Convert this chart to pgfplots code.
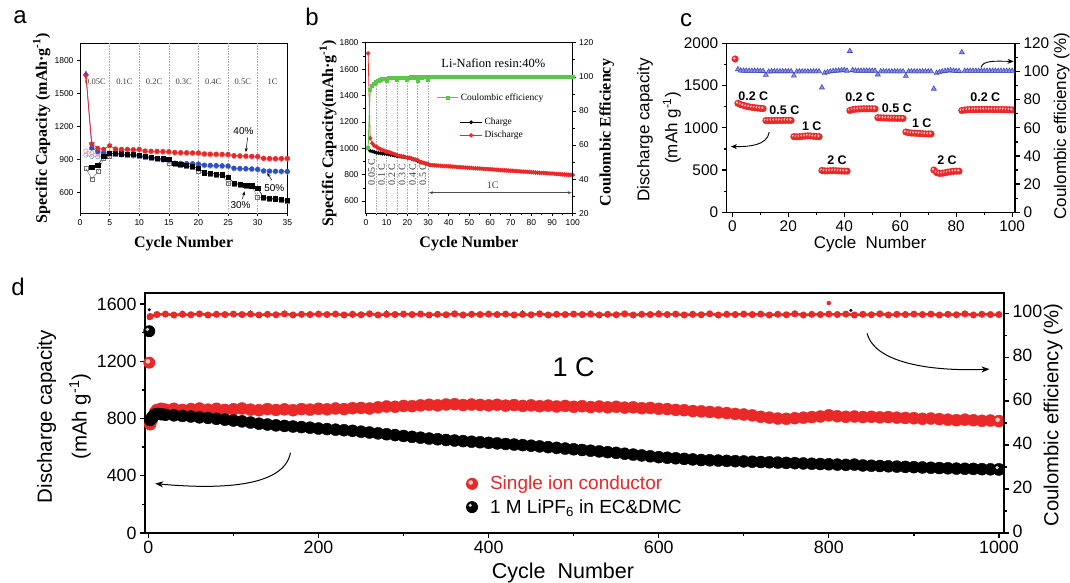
\documentclass[border=0pt]{standalone}
\usepackage{pgfplots}
\pgfplotsset{compat=1.18}
\usepackage{fontspec}
\setmainfont{Liberation Sans}
\newfontfamily\tnr{Liberation Serif}
\usetikzlibrary{arrows.meta}
\definecolor{cred}{RGB}{235,40,40}
\definecolor{cblue}{RGB}{45,80,200}
\definecolor{cpurp}{RGB}{150,60,170}
\definecolor{cgreen}{RGB}{90,200,70}
\definecolor{ctri}{RGB}{65,75,190}
\definecolor{ctrifill}{RGB}{140,150,225}
\newcommand{\fs}[1]{\fontsize{#1}{#1}\selectfont}
\pgfdeclareplotmark{rball}{%
  \pgfpathcircle{\pgfpointorigin}{\pgfplotmarksize}%
  \pgfsetfillcolor{cred}\pgfusepathqfill
  \pgfpathcircle{\pgfpoint{-0.22\pgfplotmarksize}{0.22\pgfplotmarksize}}{0.38\pgfplotmarksize}%
  \pgfsetfillcolor{cred!25!white}\pgfusepathqfill}
\pgfdeclareplotmark{kball}{%
  \pgfpathcircle{\pgfpointorigin}{\pgfplotmarksize}%
  \pgfsetfillcolor{black}\pgfusepathqfill
  \pgfpathcircle{\pgfpoint{-0.3\pgfplotmarksize}{0.3\pgfplotmarksize}}{0.3\pgfplotmarksize}%
  \pgfsetfillcolor{black!15!white}\pgfusepathqfill}
\pgfplotsset{
  base/.style={scale only axis, clip=false, tick align=outside, anchor=south west,
    /pgf/number format/assume math mode=true,
    /pgf/number format/1000 sep={}},
  small/.style={major tick length=3pt, minor tick length=2pt,
    tick style={black, line width=0.6pt}, axis line style={line width=0.8pt},
    ticklabel style={font=\fs{8.5}}},
  big/.style={major tick length=5pt, minor tick length=3pt,
    tick style={black, line width=1.3pt}, axis line style={line width=1.4pt}},
}
\begin{document}
\begin{tikzpicture}[x=1pt,y=1pt]
\fill[white] (0,0) rectangle (1070,583);
\path[use as bounding box] (0,0) rectangle (1070,583);

% ---------------- panel a ----------------
\begin{axis}[base, small, at={(80pt,369.7pt)}, width=207.3pt, height=170pt,
  xmin=0, xmax=35, ymin=413, ymax=1954,
  xtick={0,5,...,35}, ytick={600,900,1200,1500,1800},
  xtick pos=bottom, ytick pos=left]
\pgfplotsinvokeforeach{5,10,15,20,25,30}{\draw[gray!60, densely dotted, line width=0.6pt] (axis cs:#1,413) -- (axis cs:#1,1954);}
\begin{scope}[font=\tnr\fs{8.5}, text=black!75]
\node at (axis cs:2.6,1609) {0.05C};
\node at (axis cs:7.5,1609) {0.1C};
\node at (axis cs:12.5,1609) {0.2C};
\node at (axis cs:17.5,1609) {0.3C};
\node at (axis cs:22.5,1609) {0.4C};
\node at (axis cs:27.5,1609) {0.5C};
\node at (axis cs:32.5,1609) {1C};
\end{scope}
\addplot[black!55, line width=0.4pt, mark=square, mark size=2pt, mark options={line width=0.5pt}] coordinates {(1,820)(2,724)(3,790)(4,911)(5,930)(6,947)(7,944)(8,940)(9,937)(10,932)(11,920)(12,914)(13,907)(14,900)(15,866)(16,858)(17,848)(18,838)(19,828)(20,792)(21,773)(22,767)(23,762)(24,754)(25,685)(26,677)(27,669)(28,662)(29,655)(30,560)(31,550)(32,542)(33,537)(34,530)(35,522)};
\addplot[cblue!60, line width=0.4pt, mark=o, mark size=2.2pt, mark options={line width=0.5pt}] coordinates {(1,940)(2,928)(3,925)(4,930)(5,940)(6,944)(7,940)(8,936)(9,932)(10,928)(11,917)(12,910)(13,902)(14,894)(15,887)(16,860)(17,858)(18,856)(19,854)(20,852)(21,842)(22,840)(23,838)(24,836)(25,834)(26,814)(27,812)(28,810)(29,808)(30,804)(31,790)(32,788)(33,787)(34,786)(35,785)};
\addplot[cred!60, line width=0.4pt, mark=o, mark size=2.2pt, mark options={line width=0.5pt}] coordinates {(1,978)(2,960)(3,955)(4,955)(5,962)(6,988)(7,985)(8,985)(9,982)(10,985)(11,970)(12,968)(13,967)(14,965)(15,964)(16,957)(17,955)(18,954)(19,953)(20,952)(21,944)(22,942)(23,941)(24,940)(25,939)(26,928)(27,926)(28,924)(29,922)(30,920)(31,904)(32,902)(33,901)(34,902)(35,903)};
\addplot[cblue, line width=0.5pt, mark=*, mark size=2.3pt] coordinates {(2,1005)(3,972)(4,963)(5,957)(6,952)(7,948)(8,944)(9,940)(10,936)(11,925)(12,918)(13,910)(14,902)(15,895)(16,868)(17,866)(18,864)(19,862)(20,860)(21,850)(22,848)(23,846)(24,844)(25,842)(26,822)(27,820)(28,818)(29,816)(30,812)(31,798)(32,796)(33,795)(34,794)(35,793)};
\addplot[black, line width=0.5pt, mark=square*, mark size=2.1pt] coordinates {(2,830)(3,848)(4,930)(5,957)(6,955)(7,952)(8,948)(9,945)(10,940)(11,928)(12,922)(13,915)(14,908)(15,900)(16,866)(17,856)(18,846)(19,836)(20,820)(21,781)(22,775)(23,770)(24,762)(25,740)(26,685)(27,677)(28,670)(29,663)(30,640)(31,558)(32,550)(33,545)(34,538)(35,530)};
\addplot[cred, line width=0.5pt, mark=*, mark size=2.3pt] coordinates {(2,1041)(3,1002)(4,993)(5,1025)(6,996)(7,993)(8,993)(9,990)(10,993)(11,978)(12,976)(13,975)(14,973)(15,972)(16,965)(17,963)(18,962)(19,961)(20,960)(21,952)(22,950)(23,949)(24,948)(25,947)(26,936)(27,934)(28,932)(29,930)(30,928)(31,912)(32,910)(33,909)(34,910)(35,911)};
\addplot[cpurp, line width=0.7pt, mark=triangle*, mark size=2.6pt, mark options={cblue}] coordinates {(1,1676)(2,1005)};
\addplot[cred, line width=0.7pt, mark=triangle*, mark size=2.6pt, mark options={rotate=180}] coordinates {(1,1658)(2,1041)};
\node[font=\fs{10}] at (axis cs:27.6,1159) {40\%};
\node[font=\fs{10}] at (axis cs:32.8,639) {50\%};
\node[font=\fs{10}] at (axis cs:27.1,488) {30\%};
\draw[-{Stealth[length=4pt,width=3pt]}, line width=0.5pt] (axis cs:28.3,1100) -- (axis cs:28.0,968);
\draw[-{Stealth[length=4pt,width=3pt]}, line width=0.5pt] (axis cs:32.4,712) -- (axis cs:31.6,778);
\draw[-{Stealth[length=4pt,width=3pt]}, line width=0.5pt] (axis cs:27.4,545) -- (axis cs:27.8,612);
\end{axis}

% ---------------- panel b ----------------
\begin{axis}[base, small, at={(365pt,369.7pt)}, width=207.7pt, height=170.6pt,
  xmin=-0.5, xmax=100, ymin=507, ymax=1800,
  xtick={0,10,...,100}, minor xtick={5,15,...,95},
  ytick={600,800,...,1800}, minor ytick={700,900,...,1700},
  xtick pos=bottom, ytick pos=left,
  legend style={at={(0.455,0.4953)}, anchor=west, draw=none, fill=none, inner sep=0pt,
    font=\tnr\fs{9.5}, row sep=1pt},
  legend cell align=left,
  legend image code/.code={\draw[mark repeat=2, mark phase=2, #1] plot coordinates {(0pt,0pt) (11pt,0pt) (22pt,0pt)};}]
\pgfplotsinvokeforeach{5,10,15,20,25,30}{\draw[gray!60, densely dotted, line width=0.6pt] (axis cs:#1,507) -- (axis cs:#1,1520);}
\begin{scope}[font=\tnr\fs{10}, text=black!75]
\node[rotate=90, anchor=west] at (axis cs:2.7,691) {0.05 C};
\node[rotate=90, anchor=west] at (axis cs:7.5,691) {0.1 C};
\node[rotate=90, anchor=west] at (axis cs:12.5,691) {0.2 C};
\node[rotate=90, anchor=west] at (axis cs:17.5,691) {0.3 C};
\node[rotate=90, anchor=west] at (axis cs:22.5,691) {0.4 C};
\node[rotate=90, anchor=west] at (axis cs:27.5,691) {0.5 C};
\node at (axis cs:61.3,721) {1C};
\end{scope}
\draw[{Stealth[length=4pt,width=3pt]}-{Stealth[length=4pt,width=3pt]}, black!70, line width=0.5pt] (axis cs:30.5,663) -- (axis cs:99.5,663);
\node[font=\tnr\fs{12.5}] at (axis cs:61.6,1648) {Li-Nafion resin:40\%};
\addplot[black, line width=0.5pt, mark=*, mark size=1.7pt] coordinates {(1,999)(2,981)(3,976)(4,972)(5,966)(6,964)(7,962)(8,960)(9,958)(10,956)(11,953)(12,950)(13,947)(14,944)(15,941)(16,938)(17,936)(18,934)(19,931)(20,928)(21,925)(22,920)(23,915)(24,910)(25,903)(26,897)(27,892)(28,887)(29,883)(30,878)(31,872)};
\addlegendentry{Charge}
\addplot[cred, line width=0.8pt, mark=*, mark size=1.8pt] coordinates {(1,1719)(2,1075)(3,1037)(4,1019)(5,1012)(6,999)(7,993)(8,987)(9,980)(10,974)(11,972)(12,966)(13,960)(14,954)(15,948)(16,943)(17,940)(18,937)(19,934)(20,930)(21,928)(22,923)(23,918)(24,914)(25,910)(26,898)(27,893)(28,888)(29,884)(30,880)(31,873)(32,872)(33,871)(34,869)(35,868)(36,867)(37,866)(38,865)(39,864)(40,863)(41,862)(42,861)(43,860)(44,858)(45,857)(46,856)(47,855)(48,854)(49,853)(50,852)(51,851)(52,849)(53,848)(54,847)(55,846)(56,845)(57,844)(58,843)(59,842)(60,841)(61,840)(62,838)(63,837)(64,836)(65,835)(66,834)(67,833)(68,832)(69,831)(70,830)(71,829)(72,827)(73,826)(74,825)(75,824)(76,823)(77,822)(78,821)(79,820)(80,819)(81,818)(82,816)(83,815)(84,814)(85,813)(86,812)(87,811)(88,810)(89,809)(90,808)(91,807)(92,805)(93,804)(94,803)(95,802)(96,801)(97,800)(98,799)(99,798)(100,797)};
\addlegendentry{Discharge}
\end{axis}
\begin{axis}[base, small, at={(365pt,369.7pt)}, width=207.7pt, height=170.6pt,
  xmin=-0.5, xmax=100, ymin=20, ymax=120,
  axis x line=none, axis y line*=right,
  ytick={20,40,...,120}, minor ytick={30,50,...,110},
  legend style={at={(0.345,0.6776)}, anchor=west, draw=none, fill=none, inner sep=0pt,
    font=\tnr\fs{9.5}},
  legend image code/.code={\draw[mark repeat=2, mark phase=2, #1] plot coordinates {(0pt,0pt) (11pt,0pt) (21pt,0pt)};}]
\addplot[cgreen, line width=1pt, mark=square*, mark size=1.6pt] coordinates {(1,58.4)(2,92.4)(3,94.8)(4,95.9)(5,96.7)(6,97.7)(7,98.3)(8,98.6)(9,98.6)(10,97.5)(11,99.2)(12,99.2)(13,99.3)(14,99.3)(15,98.2)(16,99.4)(17,99.4)(18,99.5)(19,99.5)(20,98.2)(21,99.5)(22,99.6)(23,99.6)(24,99.6)(25,97.6)(26,99.6)(27,99.6)(28,99.7)(29,99.7)(30,98.0)(31,99.7)(33,99.8)(35,99.8)(37,99.9)(39,99.8)(41,99.8)(43,99.9)(45,99.8)(47,99.8)(49,99.9)(51,99.8)(53,99.8)(55,99.9)(57,99.8)(59,99.8)(61,99.9)(63,99.8)(65,99.8)(67,99.9)(69,99.8)(71,99.8)(73,99.9)(75,99.8)(77,100.1)(79,99.8)(81,99.9)(83,99.8)(85,99.8)(87,99.9)(89,99.8)(91,99.8)(93,99.9)(95,99.8)(97,99.8)(99,99.9)(100,99.8)};
\addlegendentry{Coulombic efficiency}
\end{axis}

% ---------------- panel c ----------------
\begin{axis}[base, big, at={(726.7pt,370.7pt)}, width=288.3pt, height=169pt,
  xmin=-2, xmax=101, ymin=0, ymax=2000,
  xtick={0,20,...,100}, minor xtick={10,30,...,90},
  ytick={0,500,...,2000}, minor ytick={250,750,...,1750},
  xtick pos=bottom, ytick pos=left,
  ticklabel style={font=\fs{15.4}}]
\addplot[only marks, mark=rball, mark size=3.6pt] coordinates {(1,1814)(2,1290)(3,1275)(4,1265)(5,1255)(6,1248)(7,1242)(8,1238)(9,1234)(10,1230)(11,1227)(12,1085)(13,1085)(14,1086)(15,1086)(16,1087)(17,1087)(18,1087)(19,1088)(20,1088)(21,1088)(22,895)(23,893)(24,895)(25,898)(26,902)(27,905)(28,903)(29,900)(30,897)(31,895)(32,495)(33,490)(34,490)(35,492)(36,493)(37,492)(38,490)(39,488)(40,487)(41,487)(42,1205)(43,1215)(44,1220)(45,1222)(46,1224)(47,1225)(48,1225)(49,1225)(50,1225)(51,1224)(52,1120)(53,1118)(54,1116)(55,1115)(56,1114)(57,1113)(58,1113)(59,1112)(60,1112)(61,1111)(62,950)(63,942)(64,938)(65,936)(66,934)(67,932)(68,930)(69,928)(70,927)(71,927)(72,500)(73,470)(74,460)(75,462)(76,468)(77,475)(78,480)(79,485)(80,487)(81,487)(82,1205)(83,1210)(84,1213)(85,1215)(86,1215)(87,1216)(88,1216)(89,1217)(90,1217)(91,1217)(92,1217)(93,1216)(94,1216)(95,1216)(96,1215)(97,1215)(98,1214)(99,1213)(100,1212)};
\begin{scope}[font=\bfseries\fs{12.5}]
\node at (axis cs:7.5,1376) {0.2 C};
\node at (axis cs:18.6,1211) {0.5 C};
\node at (axis cs:28.4,1013) {1 C};
\node at (axis cs:37.4,611) {2 C};
\node at (axis cs:45.7,1368) {0.2 C};
\node at (axis cs:58.8,1231) {0.5 C};
\node at (axis cs:67.7,1053) {1 C};
\node at (axis cs:76.7,611) {2 C};
\node at (axis cs:90.4,1368) {0.2 C};
\end{scope}
\draw[-{Stealth[length=6pt,width=5pt]}, line width=0.9pt] (axis cs:13.2,950) .. controls (axis cs:12.5,790) and (axis cs:6,775) .. (axis cs:-0.5,778);
\draw[-{Stealth[length=6pt,width=5pt]}, line width=0.9pt] (axis cs:88.9,1715) .. controls (axis cs:89.5,1800) and (axis cs:94,1790) .. (axis cs:100.5,1785);
\end{axis}
\begin{axis}[base, big, at={(726.7pt,370.7pt)}, width=288.3pt, height=169pt,
  xmin=-2, xmax=101, ymin=0, ymax=120,
  axis x line=none, axis y line*=right,
  ytick={0,20,...,120}, minor ytick={10,30,...,110},
  ticklabel style={font=\fs{15.4}}]
\addplot[only marks, mark=triangle*, mark size=2.9pt, mark options={fill=ctrifill, draw=ctri, line width=0.6pt}] coordinates {(2,101.5)(3,100.6)(4,100.5)(5,100.5)(6,100.4)(7,100.4)(8,100.4)(9,100.4)(10,100.3)(11,100.3)(12,97.5)(13,99.8)(14,100.1)(15,100.1)(16,100.1)(17,100.1)(18,100.1)(19,100.1)(20,100.1)(21,100.1)(22,97.0)(23,99.8)(24,100.0)(25,100.0)(26,100.0)(27,100.0)(28,100.0)(29,100.0)(30,100.0)(31,100.0)(32,88.6)(33,99.0)(34,99.5)(35,100.0)(36,100.3)(37,100.5)(38,100.6)(39,100.8)(40,101.0)(41,100.5)(42,114.5)(43,101.0)(44,100.5)(45,100.5)(46,100.5)(47,100.5)(48,100.5)(49,100.5)(50,100.5)(51,100.5)(52,97.8)(53,100.0)(54,100.0)(55,100.0)(56,100.0)(57,100.0)(58,100.0)(59,100.0)(60,100.0)(61,100.0)(62,96.8)(63,100.0)(64,100.0)(65,100.0)(66,100.0)(67,100.0)(68,100.0)(69,100.0)(70,100.0)(71,100.0)(72,87.7)(73,99.0)(74,99.5)(75,100.0)(76,100.3)(77,100.6)(78,100.8)(79,100.5)(80,100.3)(81,100.3)(82,113.6)(83,100.4)(84,100.4)(85,100.4)(86,100.4)(87,100.4)(88,100.4)(89,100.4)(90,100.4)(91,100.4)(92,100.4)(93,100.4)(94,100.4)(95,100.4)(96,100.4)(97,100.4)(98,100.4)(99,100.4)(100,100.4)};
\end{axis}

% ---------------- panel d ----------------
\begin{axis}[base, big, at={(145pt,50pt)}, width=859pt, height=240pt,
  xmin=-4, xmax=1006, ymin=0, ymax=1677,
  xtick={0,200,...,1000}, minor xtick={100,300,...,900},
  ytick={0,400,...,1600}, minor ytick={200,600,1000,1400},
  xtick pos=bottom, ytick pos=left,
  ticklabel style={font=\fs{17.8}},
  legend style={at={(0.3735,0.1563)}, anchor=west, draw=none, fill=none, inner sep=0pt,
    font=\fs{19}, row sep=4pt},
  legend cell align=left,
  legend image code/.code={\path[draw=none, fill=none] (0pt,0pt) (22pt,0pt); \draw[#1] plot coordinates {(6pt,0pt)};}]
\addlegendimage{only marks, mark=rball, mark size=6pt}
\addlegendentry{\textcolor{cred}{Single ion conductor}}
\addlegendimage{only marks, mark=kball, mark size=6pt}
\addlegendentry{1 M LiPF\textsubscript{6} in EC\&DMC}
\addplot[forget plot, only marks, mark=*, mark size=6pt, cred] coordinates {(2,760)(4,790)(6,820)(8,845)(10,860)(15,868)(20,862)(30,868)(40,860)(50,866)(60,870)(70,862)(80,868)(90,860)(100,865)(110,870)(120,862)(130,858)(140,866)(150,860)(160,864)(170,858)(180,866)(190,862)(200,868)(210,864)(220,870)(230,866)(240,872)(250,874)(260,870)(270,878)(280,884)(290,882)(300,888)(310,886)(320,892)(330,896)(340,892)(350,898)(360,900)(370,894)(380,898)(390,895)(400,892)(410,896)(420,890)(430,894)(440,888)(450,892)(460,886)(470,890)(480,884)(490,888)(500,882)(510,886)(520,880)(530,884)(540,878)(550,882)(560,876)(570,878)(580,872)(590,874)(600,868)(610,866)(620,860)(630,858)(640,852)(650,850)(660,846)(670,842)(680,838)(690,832)(700,828)(710,822)(720,812)(730,806)(740,800)(750,798)(760,802)(770,806)(780,810)(790,814)(800,822)(810,816)(820,812)(830,814)(840,810)(850,812)(860,808)(870,810)(880,806)(890,804)(900,802)(910,798)(920,800)(930,796)(940,792)(950,788)(960,792)(970,788)(980,784)(990,786)(1000,782)};
\addplot[forget plot, only marks, mark=*, mark size=6pt, black] coordinates {(2,790)(4,805)(6,818)(8,828)(10,832)(15,830)(20,826)(30,822)(40,818)(50,814)(60,808)(70,804)(80,798)(90,792)(100,786)(110,780)(120,772)(130,764)(140,758)(150,752)(160,748)(170,744)(180,740)(190,736)(200,730)(210,726)(220,722)(230,718)(240,714)(250,708)(260,702)(270,696)(280,690)(290,684)(300,678)(310,672)(320,666)(330,660)(340,655)(350,650)(360,646)(370,642)(380,638)(390,634)(400,630)(410,626)(420,622)(430,618)(440,614)(450,610)(460,605)(470,600)(480,595)(490,590)(500,585)(510,580)(520,575)(530,570)(540,565)(550,560)(560,554)(570,548)(580,542)(590,536)(600,530)(610,526)(620,522)(630,518)(640,514)(650,510)(660,508)(670,506)(680,504)(690,502)(700,500)(710,498)(720,496)(730,494)(740,492)(750,490)(760,488)(770,486)(780,484)(790,482)(800,480)(810,478)(820,476)(830,478)(840,472)(850,470)(860,468)(870,466)(880,464)(890,462)(900,460)(910,458)(920,456)(930,454)(940,452)(950,450)(960,449)(970,448)(980,446)(990,445)(1000,444)};
\addplot[forget plot, only marks, mark=rball, mark size=6pt] coordinates {(1,1190)(1000,782)};
\addplot[forget plot, only marks, mark=kball, mark size=6pt] coordinates {(1,1410)(1000,444)};
\node[font=\fs{27}] at (axis cs:500,1158) {1 C};
\draw[-{Stealth[length=8pt,width=6pt]}, line width=1pt] (axis cs:167,561) .. controls (axis cs:160,330) and (axis cs:90,300) .. (axis cs:8,345);
\draw[-{Stealth[length=8pt,width=6pt]}, line width=1pt] (axis cs:845,1395) .. controls (axis cs:855,1170) and (axis cs:930,1130) .. (axis cs:989,1145);
\end{axis}
\begin{axis}[base, big, at={(145pt,50pt)}, width=859pt, height=240pt,
  xmin=-4, xmax=1006, ymin=0, ymax=109.2,
  axis x line=none, axis y line*=right,
  ytick={0,20,...,100}, minor ytick={10,30,...,90},
  ticklabel style={font=\fs{17.8}},
  yticklabel style={yshift=2pt}]
\addplot[only marks, mark=*, mark size=1.3pt, black] coordinates {(1,101.6)(20,100.3)(40,100.5)(60,100.2)(80,100.4)(100,100.3)(120,100.6)(140,100.2)(160,100.4)(180,100.3)(200,100.5)(220,100.2)(240,100.4)(260,100.3)(280,100.6)(300,100.2)(320,100.4)(340,100.3)(360,100.5)(380,100.2)(400,100.4)(420,100.3)(440,100.6)(460,100.2)(480,100.4)(500,100.3)(520,100.5)(540,100.2)(560,100.4)(580,100.3)(600,100.6)(620,100.2)(640,100.4)(660,100.3)(680,100.5)(700,100.2)(720,100.4)(740,100.3)(760,100.6)(780,100.2)(800,100.4)(826,101.3)};
\addplot[cred, line width=2.5pt, mark=*, mark size=2.2pt] coordinates {(2,98.5)(10,99.4)(20,99.6)(30,99.2)(40,99.5)(50,99.3)(60,99.7)(70,99.2)(80,99.5)(90,99.4)(100,99.6)(110,99.4)(120,99.6)(130,99.2)(140,99.5)(150,99.3)(160,99.7)(170,99.2)(180,99.5)(190,99.4)(200,99.6)(210,99.4)(220,99.6)(230,99.2)(240,99.5)(250,99.3)(260,99.7)(270,99.2)(280,99.5)(290,99.4)(300,99.6)(310,99.4)(320,99.6)(330,99.2)(340,99.5)(350,99.3)(360,99.7)(370,99.2)(380,99.5)(390,99.4)(400,99.6)(410,99.4)(420,99.6)(430,99.2)(440,99.5)(450,99.3)(460,99.7)(470,99.2)(480,99.5)(490,99.4)(500,99.6)(510,99.4)(520,99.6)(530,99.2)(540,99.5)(550,99.3)(560,99.7)(570,99.2)(580,99.5)(590,99.4)(600,99.6)(610,99.4)(620,99.6)(630,99.2)(640,99.5)(650,99.3)(660,99.7)(670,99.2)(680,99.5)(690,99.4)(700,99.6)(710,99.4)(720,99.6)(730,99.2)(740,99.5)(750,99.3)(760,99.7)(770,99.2)(780,99.5)(790,99.4)(800,99.6)(810,99.4)(820,99.6)(830,99.2)(840,99.5)(850,99.3)(860,99.7)(870,99.2)(880,99.5)(890,99.4)(900,99.6)(910,99.4)(920,99.6)(930,99.2)(940,99.5)(950,99.3)(960,99.7)(970,99.2)(980,99.5)(990,99.4)(1000,99.4)};
\addplot[only marks, mark=*, mark size=2pt, cred] coordinates {(1,97.8)(800,104.6)};
\end{axis}

% ---------------- labels ----------------
\node[font=\fs{24}] at (20,566) {a};
\node[font=\fs{24}] at (312,566) {b};
\node[font=\fs{24}] at (686,563) {c};
\node[font=\fs{24}] at (18,296) {d};
\node[rotate=90, font=\tnr\bfseries\fs{16}] at (41.7,455) {Specific Capacity (mAh·g\textsuperscript{-1})};
\node[font=\tnr\bfseries\fs{16}] at (183.6,339.7) {Cycle Number};
\node[rotate=90, font=\tnr\bfseries\fs{16}] at (328,450) {Specific Capacity(mAh·g\textsuperscript{-1})};
\node[rotate=90, font=\tnr\bfseries\fs{16}] at (606.7,450.5) {Coulombic Efficiency};
\node[font=\tnr\bfseries\fs{16}] at (469,339.7) {Cycle Number};
\node[rotate=90, font=\fs{17}] at (645,453) {Discharge capacity};
\node[rotate=90, font=\fs{17}] at (672,455) {(mAh g\textsuperscript{-1})};
\node[rotate=90, font=\fs{17}] at (1061.7,457) {Coulombic efficiency (\%)};
\node[font=\fs{17}] at (870,339) {Cycle\ \ Number};
\node[rotate=90, font=\fs{20.5}] at (46.5,166.3) {Discharge capacity};
\node[rotate=90, font=\fs{20.5}] at (80,166.3) {(mAh g\textsuperscript{-1})};
\node[rotate=90, font=\fs{20.3}] at (1053,168) {Coulombic efficiency (\%)};
\node[font=\fs{21.5}] at (563,10) {Cycle\ \ Number};
\end{tikzpicture}
\end{document}
